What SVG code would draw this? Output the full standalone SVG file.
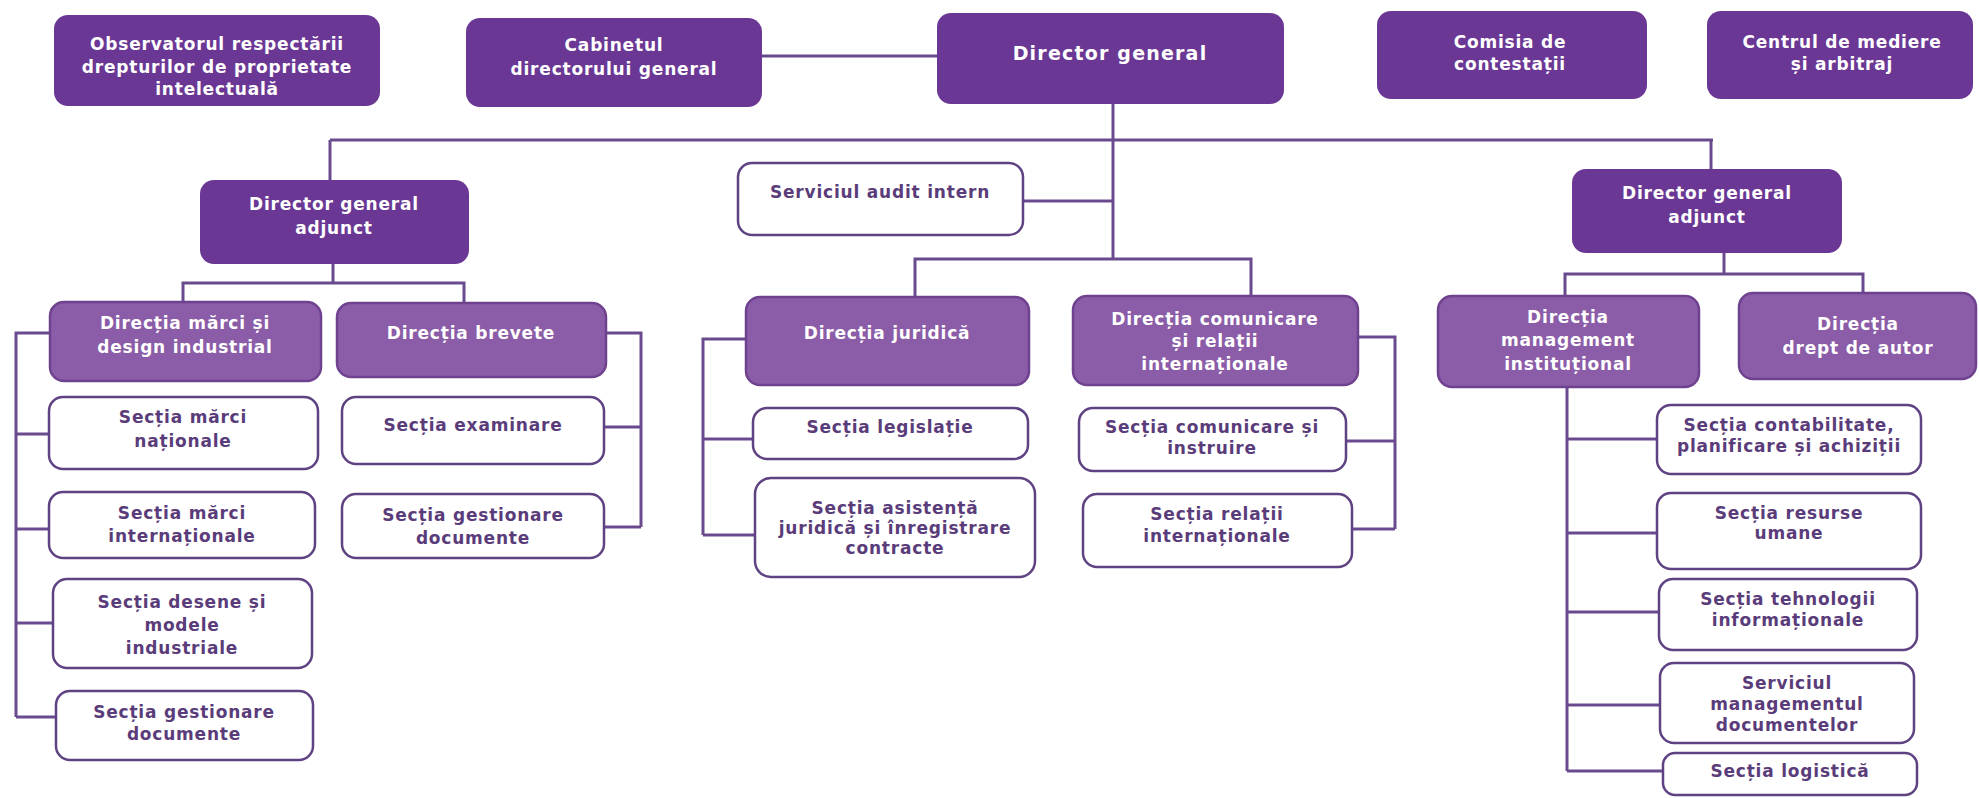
<svg xmlns="http://www.w3.org/2000/svg" width="1979" height="798" viewBox="0 0 1979 798">
<style>
.dark{fill:#6A3894;stroke:none}
.mid{fill:#8B5CA7;stroke:#6F4290;stroke-width:2.5}
.white{fill:#FFFFFF;stroke:#5F4282;stroke-width:2.5}
text{font-family:"DejaVu Sans","Liberation Sans",sans-serif;font-weight:bold;font-size:17px;letter-spacing:0.8px;text-anchor:middle}
.lt{fill:#FFFFFF}
.dt{fill:#5A3C7A}
.big{font-size:19px;letter-spacing:1.2px}
#connectors path{fill:none;stroke:#6A4A8E;stroke-width:3}
</style>
<rect width="1979" height="798" fill="#FFFFFF"/>
<g id="connectors">
<path d="M762 56H937"/>
<path d="M1113 104V259"/>
<path d="M330 140H1713"/>
<path d="M330 140V180"/>
<path d="M1711 140V169"/>
<path d="M1023 201H1113"/>
<path d="M915 297V259H1251V296"/>
<path d="M333 264V283"/>
<path d="M183 302V283H464V303"/>
<path d="M50 333H16V717"/>
<path d="M16 434H49M16 529H49M16 623H53M16 717H56"/>
<path d="M606 333H641V527"/>
<path d="M604 427H641M604 527H641"/>
<path d="M746 339H703V535"/>
<path d="M703 439H753M703 535H755"/>
<path d="M1358 337H1395V529"/>
<path d="M1346 441H1395M1352 529H1395"/>
<path d="M1724 253V274"/>
<path d="M1565 296V274H1863V293"/>
<path d="M1567 387V771"/>
<path d="M1567 439H1657M1567 533H1657M1567 612H1659M1567 705H1660M1567 771H1663"/>
</g>
<g id="observatorul"><rect class="dark" x="54" y="15" width="326" height="91" rx="14"/>
<text class="lt" x="217" y="50">Observatorul respectării</text><text class="lt" x="217" y="73">drepturilor de proprietate</text><text class="lt" x="217" y="95">intelectuală</text></g>
<g id="cabinetul"><rect class="dark" x="466" y="18" width="296" height="89" rx="14"/>
<text class="lt" x="614" y="51">Cabinetul</text><text class="lt" x="614" y="75">directorului general</text></g>
<g id="director-general"><rect class="dark" x="937" y="13" width="347" height="91" rx="14"/>
<text class="lt big" x="1110" y="60">Director general</text></g>
<g id="comisia"><rect class="dark" x="1377" y="11" width="270" height="88" rx="14"/>
<text class="lt" x="1510" y="48">Comisia de</text><text class="lt" x="1510" y="70">contestații</text></g>
<g id="centrul"><rect class="dark" x="1707" y="11" width="266" height="88" rx="14"/>
<text class="lt" x="1842" y="48">Centrul de mediere</text><text class="lt" x="1842" y="70">și arbitraj</text></g>
<g id="dga-left"><rect class="dark" x="200" y="180" width="269" height="84" rx="14"/>
<text class="lt" x="334" y="210">Director general</text><text class="lt" x="334" y="234">adjunct</text></g>
<g id="dir-marci"><rect class="mid" x="50" y="302" width="271" height="79" rx="14"/>
<text class="lt" x="185" y="329">Direcția mărci și</text><text class="lt" x="185" y="353">design industrial</text></g>
<g id="dir-brevete"><rect class="mid" x="337" y="303" width="269" height="74" rx="14"/>
<text class="lt" x="471" y="339">Direcția brevete</text></g>
<g id="s-marci-nat"><rect class="white" x="49" y="397" width="269" height="72" rx="14"/>
<text class="dt" x="183" y="423">Secția mărci</text><text class="dt" x="183" y="447">naționale</text></g>
<g id="s-marci-int"><rect class="white" x="49" y="492" width="266" height="66" rx="14"/>
<text class="dt" x="182" y="519">Secția mărci</text><text class="dt" x="182" y="542">internaționale</text></g>
<g id="s-desene"><rect class="white" x="53" y="579" width="259" height="89" rx="14"/>
<text class="dt" x="182" y="608">Secția desene și</text><text class="dt" x="182" y="631">modele</text><text class="dt" x="182" y="654">industriale</text></g>
<g id="s-gest-marci"><rect class="white" x="56" y="691" width="257" height="69" rx="14"/>
<text class="dt" x="184" y="718">Secția gestionare</text><text class="dt" x="184" y="740">documente</text></g>
<g id="s-examinare"><rect class="white" x="342" y="397" width="262" height="67" rx="14"/>
<text class="dt" x="473" y="431">Secția examinare</text></g>
<g id="s-gest-brevete"><rect class="white" x="342" y="494" width="262" height="64" rx="14"/>
<text class="dt" x="473" y="521">Secția gestionare</text><text class="dt" x="473" y="544">documente</text></g>
<g id="audit"><rect class="white" x="738" y="163" width="285" height="72" rx="14"/>
<text class="dt" x="880" y="198">Serviciul audit intern</text></g>
<g id="dir-juridica"><rect class="mid" x="746" y="297" width="283" height="88" rx="14"/>
<text class="lt" x="887" y="339">Direcția juridică</text></g>
<g id="dir-comunicare"><rect class="mid" x="1073" y="296" width="285" height="89" rx="14"/>
<text class="lt" x="1215" y="325">Direcția comunicare</text><text class="lt" x="1215" y="347">și relații</text><text class="lt" x="1215" y="370">internaționale</text></g>
<g id="s-legislatie"><rect class="white" x="753" y="408" width="275" height="51" rx="14"/>
<text class="dt" x="890" y="433">Secția legislație</text></g>
<g id="s-asistenta"><rect class="white" x="755" y="478" width="280" height="99" rx="16"/>
<text class="dt" x="895" y="514">Secția asistență</text><text class="dt" x="895" y="534">juridică și înregistrare</text><text class="dt" x="895" y="554">contracte</text></g>
<g id="s-comunicare"><rect class="white" x="1079" y="408" width="267" height="63" rx="14"/>
<text class="dt" x="1212" y="433">Secția comunicare și</text><text class="dt" x="1212" y="454">instruire</text></g>
<g id="s-relatii"><rect class="white" x="1083" y="494" width="269" height="73" rx="14"/>
<text class="dt" x="1217" y="520">Secția relații</text><text class="dt" x="1217" y="542">internaționale</text></g>
<g id="dga-right"><rect class="dark" x="1572" y="169" width="270" height="84" rx="14"/>
<text class="lt" x="1707" y="199">Director general</text><text class="lt" x="1707" y="223">adjunct</text></g>
<g id="dir-management"><rect class="mid" x="1438" y="296" width="261" height="91" rx="14"/>
<text class="lt" x="1568" y="323">Direcția</text><text class="lt" x="1568" y="346">management</text><text class="lt" x="1568" y="370">instituțional</text></g>
<g id="dir-autor"><rect class="mid" x="1739" y="293" width="237" height="86" rx="14"/>
<text class="lt" x="1858" y="330">Direcția</text><text class="lt" x="1858" y="354">drept de autor</text></g>
<g id="s-contabilitate"><rect class="white" x="1657" y="405" width="264" height="69" rx="14"/>
<text class="dt" x="1789" y="431">Secția contabilitate,</text><text class="dt" x="1789" y="452">planificare și achiziții</text></g>
<g id="s-resurse"><rect class="white" x="1657" y="493" width="264" height="76" rx="14"/>
<text class="dt" x="1789" y="519">Secția resurse</text><text class="dt" x="1789" y="539">umane</text></g>
<g id="s-tehnologii"><rect class="white" x="1659" y="579" width="258" height="71" rx="14"/>
<text class="dt" x="1788" y="605">Secția tehnologii</text><text class="dt" x="1788" y="626">informaționale</text></g>
<g id="s-documente"><rect class="white" x="1660" y="663" width="254" height="80" rx="14"/>
<text class="dt" x="1787" y="689">Serviciul</text><text class="dt" x="1787" y="710">managementul</text><text class="dt" x="1787" y="731">documentelor</text></g>
<g id="s-logistica"><rect class="white" x="1663" y="753" width="254" height="42" rx="12"/>
<text class="dt" x="1790" y="777">Secția logistică</text></g>
</svg>
